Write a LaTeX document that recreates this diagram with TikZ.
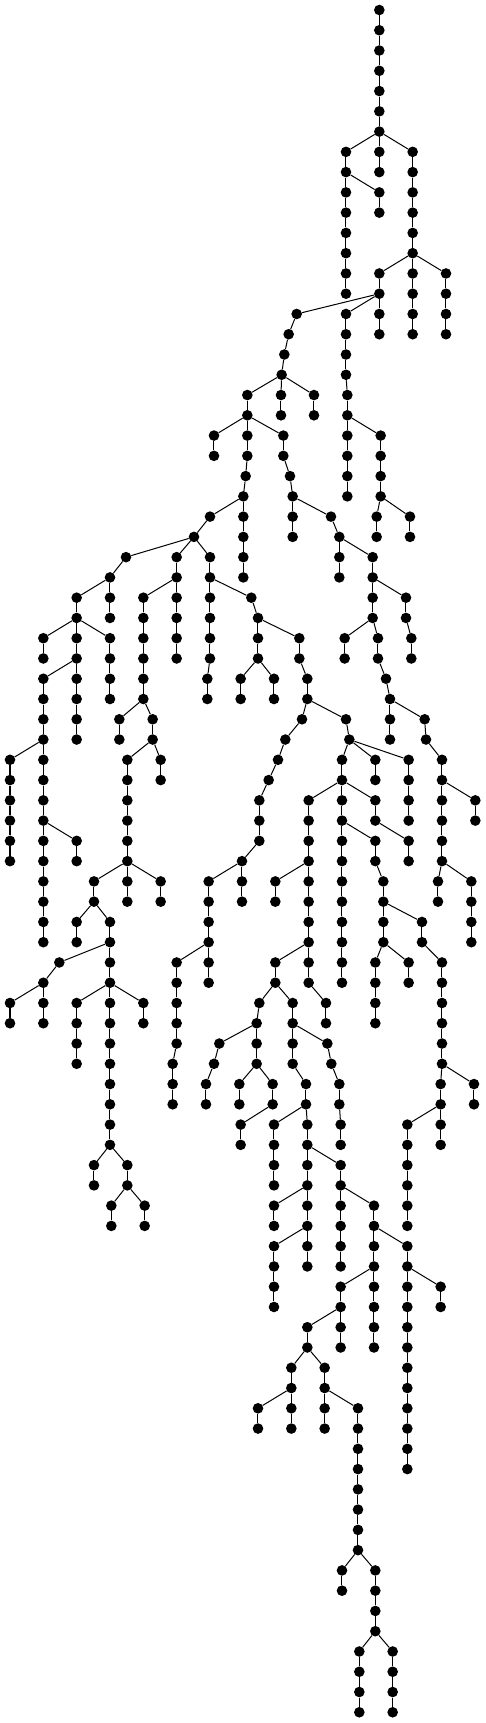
\documentclass[tikz,border=0pt]{standalone}
\begin{document}
\begin{tikzpicture}[x=0.333333pt, y=-20.265pt,
  dot/.style={circle, fill=black, draw=none, inner sep=0pt, minimum size=10.6pt},
  ln/.style={line width=1pt, black}]
\useasboundingbox (0,-0.4935) rectangle (1458,84.5299);
\node[dot] (n0-1138) at (1138,0) {};
\foreach \l/\x/\p in {
1/1138/1138, 2/1138/1138, 3/1138/1138, 4/1138/1138, 5/1138/1138, 6/1138/1138,
7/1038/1138, 7/1138/1138, 7/1238/1138,
8/1038/1038, 8/1138/1138, 8/1238/1238,
9/1038/1038, 9/1138/1038, 9/1238/1238,
10/1038/1038, 10/1138/1138, 10/1238/1238,
11/1038/1038, 11/1238/1238,
12/1038/1038, 12/1238/1238,
13/1038/1038, 13/1138/1238, 13/1238/1238, 13/1338/1238,
14/1038/1038, 14/1138/1138, 14/1238/1238, 14/1338/1338,
15/890/1138, 15/1038/1138, 15/1138/1138, 15/1238/1238, 15/1338/1338,
16/866/890, 16/1038/1038, 16/1138/1138, 16/1238/1238, 16/1338/1338,
17/853/866, 17/1038/1038,
18/845/853, 18/1038/1038,
19/742/845, 19/843/845, 19/942/845, 19/1042/1038,
20/742/742, 20/843/843, 20/942/942, 20/1042/1042,
21/642/742, 21/742/742, 21/850/742, 21/1042/1042, 21/1142/1042,
22/642/642, 22/742/742, 22/850/850, 22/1042/1042, 22/1142/1142,
23/737/742, 23/870/850, 23/1042/1042, 23/1142/1142,
24/730/737, 24/878/870, 24/1042/1042, 24/1142/1142,
25/630/730, 25/730/730, 25/878/878, 25/993/878, 25/1130/1142, 25/1230/1142,
26/582/630, 26/730/730, 26/878/878, 26/1018/993, 26/1130/1130, 26/1230/1230,
27/378/582, 27/530/582, 27/630/582, 27/730/730, 27/1018/1018, 27/1118/1018,
28/330/378, 28/530/530, 28/630/630, 28/730/730, 28/1018/1018, 28/1118/1118,
29/230/330, 29/330/330, 29/430/530, 29/530/530, 29/630/630, 29/754/630, 29/1118/1118, 29/1218/1118,
30/230/230, 30/330/330, 30/430/430, 30/530/530, 30/630/630, 30/774/754, 30/1118/1118, 30/1218/1218,
31/130/230, 31/230/230, 31/330/230, 31/430/430, 31/530/530, 31/630/630, 31/774/774, 31/898/774, 31/1034/1118, 31/1134/1118, 31/1234/1218,
32/130/130, 32/230/230, 32/330/330, 32/430/430, 32/530/530, 32/630/630, 32/774/774, 32/898/898, 32/1034/1034, 32/1134/1134, 32/1234/1234,
33/130/230, 33/230/230, 33/330/330, 33/430/430, 33/622/630, 33/722/774, 33/822/774, 33/922/898, 33/1158/1134,
34/130/130, 34/230/230, 34/330/330, 34/430/430, 34/622/622, 34/722/722, 34/822/822, 34/922/922, 34/1170/1158,
35/130/130, 35/230/230, 35/358/430, 35/458/430, 35/906/922, 35/1038/922, 35/1170/1170, 35/1274/1170,
36/130/130, 36/230/230, 36/358/358, 36/458/458, 36/856/906, 36/1048/1038, 36/1170/1170, 36/1278/1274,
37/30/130, 37/130/130, 37/382/458, 37/482/458, 37/834/856, 37/1026/1048, 37/1126/1048, 37/1226/1048, 37/1326/1278,
38/30/30, 38/130/130, 38/382/382, 38/482/482, 38/806/834, 38/1026/1026, 38/1126/1126, 38/1226/1226, 38/1326/1326,
39/30/30, 39/130/130, 39/382/382, 39/778/806, 39/926/1026, 39/1026/1026, 39/1126/1026, 39/1226/1226, 39/1326/1326, 39/1426/1326,
40/30/30, 40/130/130, 40/382/382, 40/778/778, 40/926/926, 40/1026/1026, 40/1126/1126, 40/1226/1226, 40/1326/1326, 40/1426/1426,
41/30/30, 41/130/130, 41/230/130, 41/382/382, 41/778/778, 41/926/926, 41/1026/1026, 41/1126/1026, 41/1226/1126, 41/1326/1326,
42/30/30, 42/130/130, 42/230/230, 42/382/382, 42/726/778, 42/926/926, 42/1026/1026, 42/1126/1126, 42/1226/1226, 42/1326/1326,
43/130/130, 43/282/382, 43/382/382, 43/482/382, 43/626/726, 43/726/726, 43/826/926, 43/926/926, 43/1026/1026, 43/1150/1126, 43/1314/1326, 43/1414/1326,
44/130/130, 44/282/282, 44/382/382, 44/482/482, 44/626/626, 44/726/726, 44/826/826, 44/926/926, 44/1026/1026, 44/1150/1150, 44/1314/1314, 44/1414/1414,
45/130/130, 45/230/282, 45/330/282, 45/626/626, 45/926/926, 45/1026/1026, 45/1150/1150, 45/1266/1150, 45/1414/1414,
46/130/130, 46/230/230, 46/330/330, 46/626/626, 46/926/926, 46/1026/1026, 46/1150/1150, 46/1266/1266, 46/1414/1414,
47/178/330, 47/330/330, 47/530/626, 47/626/626, 47/826/926, 47/926/926, 47/1026/1026, 47/1126/1150, 47/1226/1150, 47/1326/1266,
48/130/178, 48/330/330, 48/530/530, 48/626/626, 48/826/826, 48/926/926, 48/1026/1026, 48/1126/1126, 48/1226/1226, 48/1326/1326,
49/30/130, 49/130/130, 49/230/330, 49/330/330, 49/430/330, 49/530/530, 49/778/826, 49/878/826, 49/978/926, 49/1126/1126, 49/1326/1326,
50/30/30, 50/130/130, 50/230/230, 50/330/330, 50/430/430, 50/530/530, 50/770/778, 50/878/878, 50/978/978, 50/1126/1126, 50/1326/1326,
51/230/230, 51/330/330, 51/530/530, 51/658/770, 51/770/770, 51/878/878, 51/982/878, 51/1326/1326,
52/230/230, 52/330/330, 52/518/530, 52/642/658, 52/770/770, 52/878/878, 52/994/982, 52/1326/1326,
53/330/330, 53/518/518, 53/618/642, 53/718/770, 53/818/770, 53/918/878, 53/1018/994, 53/1322/1326, 53/1422/1326,
54/330/330, 54/518/518, 54/618/618, 54/718/718, 54/818/818, 54/918/918, 54/1018/1018, 54/1322/1322, 54/1422/1422,
55/330/330, 55/722/818, 55/822/918, 55/922/918, 55/1022/1018, 55/1222/1322, 55/1322/1322,
56/330/330, 56/722/722, 56/822/822, 56/922/922, 56/1022/1022, 56/1222/1222, 56/1322/1322,
57/282/330, 57/382/330, 57/822/822, 57/922/922, 57/1022/922, 57/1222/1222,
58/282/282, 58/382/382, 58/822/822, 58/922/922, 58/1022/1022, 58/1222/1222,
59/334/382, 59/434/382, 59/822/922, 59/922/922, 59/1022/1022, 59/1122/1022, 59/1222/1222,
60/334/334, 60/434/434, 60/822/822, 60/922/922, 60/1022/1022, 60/1122/1122, 60/1222/1222,
61/822/922, 61/922/922, 61/1022/1022, 61/1122/1122, 61/1222/1122,
62/822/822, 62/922/922, 62/1022/1022, 62/1122/1122, 62/1222/1222,
63/822/822, 63/1022/1122, 63/1122/1122, 63/1222/1222, 63/1322/1222,
64/822/822, 64/1022/1022, 64/1122/1122, 64/1222/1222, 64/1322/1322,
65/922/1022, 65/1022/1022, 65/1122/1122, 65/1222/1222,
66/922/922, 66/1022/1022, 66/1122/1122, 66/1222/1222,
67/874/922, 67/974/922, 67/1222/1222,
68/874/874, 68/974/974, 68/1222/1222,
69/774/874, 69/874/874, 69/974/974, 69/1074/974, 69/1222/1222,
70/774/774, 70/874/874, 70/974/974, 70/1074/1074, 70/1222/1222,
71/1074/1074, 71/1222/1222,
72/1074/1074, 72/1222/1222,
73/1074/1074, 74/1074/1074, 75/1074/1074, 76/1074/1074,
77/1026/1074, 77/1126/1074,
78/1026/1026, 78/1126/1126,
79/1126/1126, 80/1126/1126,
81/1078/1126, 81/1178/1126,
82/1078/1078, 82/1178/1178,
83/1078/1078, 83/1178/1178,
84/1078/1078, 84/1178/1178}
{
  \pgfmathtruncatemacro\pl{\l-1}
  \node[dot] (n\l-\x) at (\x,\l) {};
  \draw[ln] (n\pl-\p) -- (n\l-\x);
}
\end{tikzpicture}
\end{document}
